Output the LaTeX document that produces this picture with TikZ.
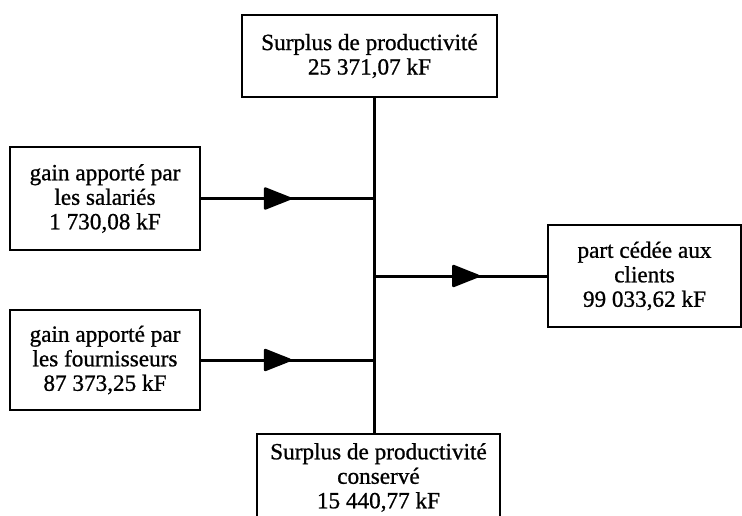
\documentclass[tikz,border=0pt]{standalone}
\usepackage{fontspec}
\setmainfont{Liberation Serif}[FakeBold=0.9]
\usetikzlibrary{arrows.meta,decorations.markings}
\begin{document}
\begin{tikzpicture}[x=1pt,y=-1pt,
  box/.style={draw,line width=2.6pt,inner sep=0pt,align=center,
    font=\fontsize{23.2}{24.5}\selectfont},
  wire/.style={line width=3pt},
  flow/.style={wire,postaction={decorate},decoration={markings,
    mark=at position #1 with {\arrow{Triangle[length=30pt,width=23pt,round]}}}}]
  \useasboundingbox (0,0) rectangle (742,516);
  \clip (0,0) rectangle (742,516);
  % boxes
  \node[box,minimum width=255pt,minimum height=82pt] (top) at (369.5,56)
    {Surplus de productivité\\25 371,07 kF};
  \node[box,minimum width=190pt,minimum height=103pt] (sal) at (105,198.5)
    {gain apporté par\\les salariés\\1 730,08 kF};
  \node[box,minimum width=190pt,minimum height=100pt] (four) at (105,360)
    {gain apporté par\\les fournisseurs\\87 373,25 kF};
  \node[box,minimum width=193pt,minimum height=102pt] (cli) at (644.5,276)
    {part cédée aux\\clients\\99 033,62 kF};
  \node[box,minimum width=243pt,minimum height=87pt] (bot) at (378.5,477.5)
    {Surplus de productivité\\conservé\\15 440,77 kF};
  % central spine
  \coordinate (jx) at (374,0);
  \draw[wire] (top.south -| jx) -- (bot.north -| jx);
  % flows
  \draw[flow=0.52] (sal.east) -- (sal.east -| jx);
  \draw[flow=0.52] (four.east) -- (four.east -| jx);
  \draw[flow=0.61] (cli.west -| jx) -- (cli.west);
\end{tikzpicture}
\end{document}
